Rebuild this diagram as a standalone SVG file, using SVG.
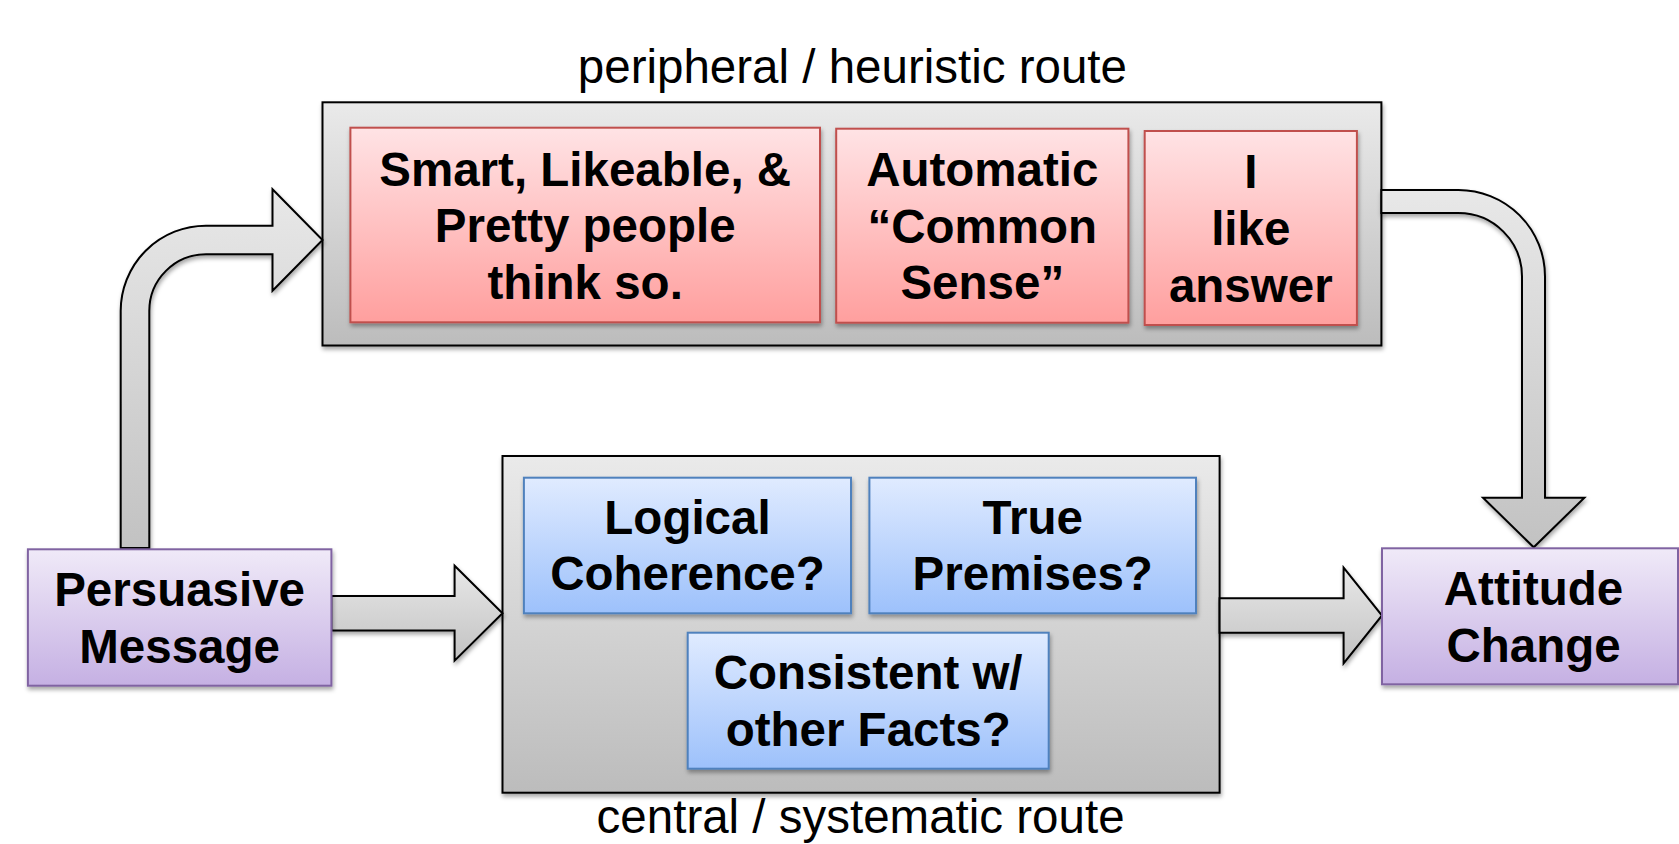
<svg xmlns="http://www.w3.org/2000/svg" width="1679" height="844" viewBox="0 0 1679 844">
<defs>
<linearGradient id="gGray" x1="0" y1="0" x2="0" y2="1"><stop offset="0" stop-color="#EAEAEA"/><stop offset="1" stop-color="#BCBCBC"/></linearGradient>
<linearGradient id="gArrow" x1="0" y1="0" x2="0" y2="1"><stop offset="0" stop-color="#E8E8E8"/><stop offset="1" stop-color="#C2C2C2"/></linearGradient>
<linearGradient id="gPink" x1="0" y1="0" x2="0" y2="1"><stop offset="0" stop-color="#FFE3E5"/><stop offset="1" stop-color="#FF9F9E"/></linearGradient>
<linearGradient id="gBlue" x1="0" y1="0" x2="0" y2="1"><stop offset="0" stop-color="#E0EBFF"/><stop offset="1" stop-color="#9DC1FB"/></linearGradient>
<linearGradient id="gPurple" x1="0" y1="0" x2="0" y2="1"><stop offset="0" stop-color="#F0EAF8"/><stop offset="1" stop-color="#C5B0E3"/></linearGradient>
<filter id="sh" x="-10%" y="-10%" width="120%" height="130%"><feDropShadow dx="1" dy="3" stdDeviation="2" flood-color="#000" flood-opacity="0.35"/></filter>
</defs>
<style>
.cont{fill:url(#gGray);stroke:#000;stroke-width:2;filter:url(#sh)}
.arrow{fill:url(#gArrow);stroke:#000;stroke-width:2;stroke-linejoin:miter;filter:url(#sh)}
.pink{fill:url(#gPink);stroke:#C0504D;stroke-width:2;filter:url(#sh)}
.blue{fill:url(#gBlue);stroke:#4F81BD;stroke-width:2;filter:url(#sh)}
.purple{fill:url(#gPurple);stroke:#8064A2;stroke-width:2;filter:url(#sh)}
.t{font-family:"Liberation Sans",Arial,sans-serif;font-weight:bold;font-size:47.5px;fill:#000;text-anchor:middle}
.lbl{font-family:"Liberation Sans",Arial,sans-serif;font-size:47.5px;fill:#000;text-anchor:middle}
</style>
<rect width="1679" height="844" fill="#fff"/>

<text class="lbl" x="852.4" y="83.3">peripheral / heuristic route</text>
<text class="lbl" x="860.6" y="833">central / systematic route</text>

<g id="containers">
<rect id="peripheral" class="cont" x="322.5" y="102.3" width="1058.9" height="243.2"/>
<rect id="central" class="cont" x="502.5" y="456" width="717.1" height="336.7"/>
</g>

<g id="connectors">
<path class="arrow" d="M120.7,548 V311 A85.3,85.3 0 0 1 206,225.7 H272.5 V189.3 L322.5,240 L272.5,290.7 V254.3 H206 A56.7,56.7 0 0 0 149.3,311 V548 Z"/>
<path class="arrow" d="M1381.4,190 H1458.5 A86.5,86.5 0 0 1 1545,276.5 V497.7 H1584.4 L1533.7,547.3 L1483,497.7 H1522 V276.5 A63.5,63.5 0 0 0 1458.5,213 H1381.4 Z"/>
<path class="arrow" d="M331.4,596 H454.6 V565.7 L502.5,613.2 L454.6,660.7 V630.4 H331.4 Z"/>
<path class="arrow" d="M1219.6,598.3 H1343.6 V567.7 L1382,615.5 L1343.6,663.3 V632.7 H1219.6 Z"/>
</g>

<g id="smart">
<rect class="pink" x="350.4" y="127.7" width="469.6" height="194.6"/>
<text class="t" x="585.2" y="185.5">Smart, Likeable, &amp;</text>
<text class="t" x="585.2" y="242.2">Pretty people</text>
<text class="t" x="585.2" y="298.9">think so.</text>
</g>
<g id="commonsense">
<rect class="pink" x="836.2" y="128.7" width="292.2" height="194"/>
<text class="t" x="982.3" y="186">Automatic</text>
<text class="t" x="982.3" y="242.7">“Common</text>
<text class="t" x="982.3" y="299.4">Sense”</text>
</g>
<g id="likeanswer">
<rect class="pink" x="1144.7" y="131" width="212.2" height="194"/>
<text class="t" x="1250.8" y="188.3">I</text>
<text class="t" x="1250.8" y="245">like</text>
<text class="t" x="1250.8" y="301.7">answer</text>
</g>

<g id="logical">
<rect class="blue" x="523.9" y="477.7" width="327.1" height="135.6"/>
<text class="t" x="687.5" y="533.7">Logical</text>
<text class="t" x="687.5" y="590.4">Coherence?</text>
</g>
<g id="premises">
<rect class="blue" x="869.4" y="477.7" width="326.6" height="135.6"/>
<text class="t" x="1032.7" y="533.7">True</text>
<text class="t" x="1032.7" y="590.4">Premises?</text>
</g>
<g id="consistent">
<rect class="blue" x="687.7" y="632.7" width="361" height="136"/>
<text class="t" x="868.2" y="689">Consistent w/</text>
<text class="t" x="868.2" y="745.7">other Facts?</text>
</g>

<g id="persuasive">
<rect class="purple" x="27.9" y="549.3" width="303.5" height="136.4"/>
<text class="t" x="179.6" y="606.2">Persuasive</text>
<text class="t" x="179.6" y="662.9">Message</text>
</g>
<g id="attitude">
<rect class="purple" x="1382" y="548.3" width="296" height="136"/>
<text class="t" x="1533.5" y="605">Attitude</text>
<text class="t" x="1533.5" y="661.7">Change</text>
</g>
</svg>
